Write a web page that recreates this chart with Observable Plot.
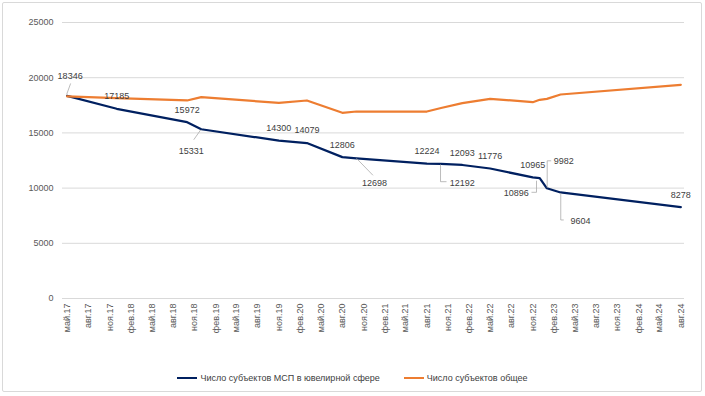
<!DOCTYPE html>
<html>
<head>
<meta charset="utf-8">
<script src="https://cdn.jsdelivr.net/npm/d3@7"></script>
<script src="https://cdn.jsdelivr.net/npm/@observablehq/plot@0.6"></script>
<style>
  html, body { margin: 0; padding: 0; background: #fff; }
  #wrap { position: relative; width: 705px; height: 396px; overflow: hidden; font-family: "Liberation Sans", Arial, sans-serif; }
  #frame { position: absolute; left: 2px; top: 2px; width: 698px; height: 388px; border: 1px solid #d9d9d9; border-radius: 2px; box-sizing: content-box; }
  #chart { position: absolute; left: 0; top: 0; }
  #legend { position: absolute; left: 0; top: 371px; width: 705px; height: 14px; display: flex; justify-content: center; align-items: center; font-size: 9px; color: #404040; }
  .item { display: flex; align-items: center; }
  .item + .item { margin-left: 24px; }
  .sw { width: 20px; height: 2.25px; margin-right: 3px; }
</style>
</head>
<body>
<div id="wrap">
  <div id="frame"></div>
  <div id="chart"></div>
  <div id="legend"></div>
</div>
<script>
// ---- data ----
const seriesNames = ["Число субъектов МСП в ювелирной сфере", "Число субъектов общее"];
const seriesColors = ["#002060", "#ED7D31"];
const dates = ["2017-05", "2017-12", "2018-10", "2018-12", "2019-11", "2020-03", "2020-08", "2020-10",
               "2021-08", "2021-10", "2022-01", "2022-05", "2022-11", "2022-12", "2023-01", "2023-03", "2024-08"];
const msp = [18346, 17185, 15972, 15331, 14300, 14079, 12806, 12698,
             12224, 12192, 12093, 11776, 10965, 10896, 9982, 9604, 8278];
const total = [18300, 18160, 17935, 18234, 17726, 17935, 16820, 16938,
               16938, 17255, 17690, 18088, 17781, 17999, 18088, 18478, 19357];
const monthNames = ["янв", "фев", "мар", "апр", "май", "июн", "июл", "авг", "сен", "окт", "ноя", "дек"];
const yTicks = [0, 5000, 10000, 15000, 20000, 25000];

// ---- label layout (pixel offsets from the data point) ----
const labelLayout = [
  {i: 0, dx: 3, dy: -19.5, anchor: "middle", leader: [[0, -1], [4, -12]]},
  {i: 1, dx: 0, dy: -12.6, anchor: "middle"},
  {i: 2, dx: 0, dy: -12.4, anchor: "middle"},
  {i: 3, dx: -10, dy: 22, anchor: "middle", leader: [[0, 1], [-7, 11]]},
  {i: 4, dx: 0, dy: -12.3, anchor: "middle"},
  {i: 5, dx: 0, dy: -12.6, anchor: "middle"},
  {i: 6, dx: 0, dy: -12.3, anchor: "middle"},
  {i: 7, dx: 18, dy: 25, anchor: "middle", leader: [[0.5, 0.5], [17, 17.5]]},
  {i: 8, dx: 0, dy: -12.3, anchor: "middle"},
  {i: 9, dx: 8.7, dy: 19.3, anchor: "start", leader: [[0, 1], [0, 18.3], [6, 18.3]]},
  {i: 10, dx: 0, dy: -12.2, anchor: "middle"},
  {i: 11, dx: 0, dy: -12.3, anchor: "middle"},
  {i: 12, dx: 0, dy: -12.7, anchor: "middle"},
  {i: 13, dx: -11, dy: 14.6, anchor: "end", leader: [[-2.7, 3], [-2.7, 14.6], [-7.7, 14.6]]},
  {i: 14, dx: 6.8, dy: -27, anchor: "start", leader: [[0.8, 0], [0.8, -27], [4.8, -27]]},
  {i: 15, dx: 10, dy: 29, anchor: "start", leader: [[0.7, 1], [0.7, 28], [3.7, 28]]},
  {i: 16, dx: 0, dy: -11.6, anchor: "middle"}
];

const parse = d3.utcParse("%Y-%m");
const mspData = dates.map((d, i) => ({date: parse(d), value: msp[i]}));
const totalData = dates.map((d, i) => ({date: parse(d), value: total[i]}));

const xTicks = d3.utcMonth.range(parse("2017-05"), parse("2024-09"), 3);
const fmtX = d => `${monthNames[d.getUTCMonth()]}.${String(d.getUTCFullYear()).slice(2)}`;

function leaders(index, scales) {
  const g = d3.create("svg:g").attr("fill", "none").attr("stroke", "#a6a6a6").attr("stroke-width", 0.75);
  for (const L of labelLayout) {
    if (!L.leader) continue;
    const px = scales.x(mspData[L.i].date), py = scales.y(mspData[L.i].value);
    g.append("polyline").attr("points", L.leader.map(([a, b]) => `${px + a},${py + b}`).join(" "));
  }
  return g.node();
}

const labelMarks = labelLayout.map(L => Plot.text([mspData[L.i]], {
  x: "date", y: "value", text: d => String(d.value),
  dx: L.dx, dy: L.dy, textAnchor: L.anchor, fill: "#404040", fontSize: 9
}));

const chart = Plot.plot({
  width: 705,
  height: 345,
  marginLeft: 62,
  marginRight: 21,
  marginTop: 22,
  marginBottom: 47,
  style: {fontFamily: "Liberation Sans, Arial, sans-serif", fontSize: "9px", background: "transparent"},
  x: {type: "utc", domain: [new Date(Date.UTC(2017, 3, 11)), new Date(Date.UTC(2024, 7, 17))]},
  y: {domain: [0, 25000]},
  marks: [
    Plot.gridY(yTicks, {stroke: "#d9d9d9", strokeOpacity: 1}),
    Plot.axisY(yTicks, {tickSize: 0, tickPadding: 9, color: "#595959", label: null, tickFormat: d => String(d)}),
    Plot.axisX(xTicks, {tickSize: 0, tickPadding: 5, tickRotate: -90, tickFormat: fmtX, color: "#595959", label: null}),
    Plot.line(mspData, {x: "date", y: "value", stroke: seriesColors[0], strokeWidth: 2.25}),
    Plot.line(totalData, {x: "date", y: "value", stroke: seriesColors[1], strokeWidth: 2.25}),
    leaders,
    ...labelMarks
  ]
});
document.getElementById("chart").appendChild(chart);

const legend = document.getElementById("legend");
seriesNames.forEach((name, k) => {
  const item = document.createElement("div");
  item.className = "item";
  const sw = document.createElement("div");
  sw.className = "sw";
  sw.style.background = seriesColors[k];
  const t = document.createElement("span");
  t.textContent = name;
  item.appendChild(sw);
  item.appendChild(t);
  legend.appendChild(item);
});
</script>
</body>
</html>
